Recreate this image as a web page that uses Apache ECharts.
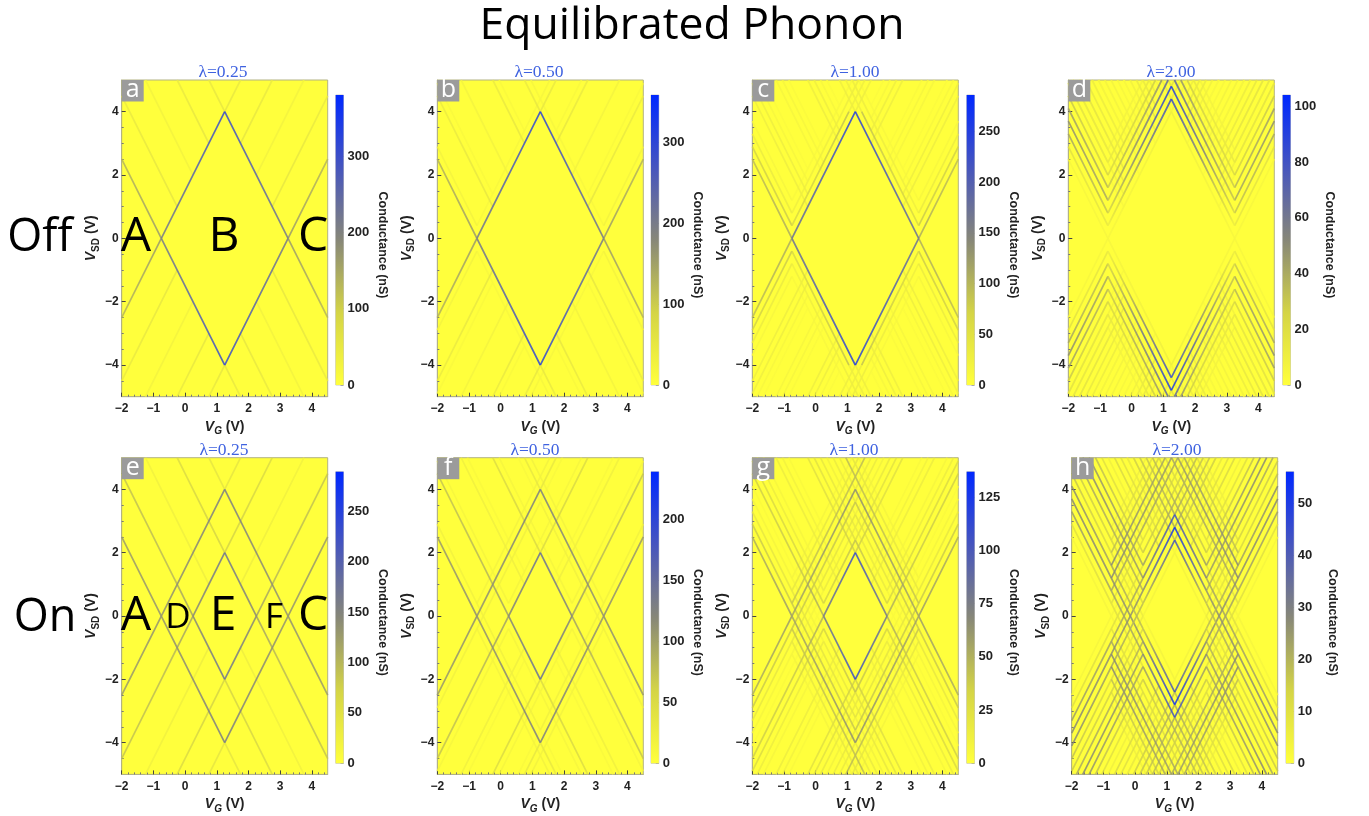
<!DOCTYPE html>
<html><head><meta charset="utf-8">
<style>html,body{margin:0;padding:0;background:#fff}#c{width:1369px;height:816px;filter:blur(0.45px)}</style>
<script src="https://cdn.jsdelivr.net/npm/echarts@6/dist/echarts.min.js"></script>
</head><body><div id="c"></div>
<script>
// Tick values
const xTicks = [-2,-1,0,1,2,3,4];
const yTicks = [-4,-2,0,2,4];
const xMinorTicks = [-1.8,-1.6,-1.4,-1.2,-0.8,-0.6,-0.4,-0.2,0.2,0.4,0.6,0.8,1.2,1.4,1.6,1.8,2.2,2.4,2.6,2.8,3.2,3.4,3.6,3.8,4.2,4.4];
const yMinorTicks = [-4.5,-3.5,-3,-2.5,-1.5,-1,-0.5,0.5,1,1.5,2.5,3,3.5,4.5];
const panelLetters = ['a','b','c','d','e','f','g','h'];
const lambdas = ['0.25','0.50','1.00','2.00','0.25','0.50','1.00','2.00'];
const colorbarMax = [380,359,286,104,289,239,137,56];
const colorbarTicks = [
  [0,100,200,300],[0,100,200,300],[0,50,100,150,200,250],[0,20,40,60,80,100],
  [0,50,100,150,200,250],[0,50,100,150,200],[0,25,50,75,100,125],[0,10,20,30,40,50]
];
// Conductance ridges: [VG1, VSD1, VG2, VSD2, G1, G2] in V, V, nS.
// The maps are symmetric about VSD=0 and VG=1.25, so one quarter of the ridges is listed.
const ridgesA = [[-2,-2.5,-.75,0,130,170],[-.75,0,1.25,4,210,310],[1.25,4,1.75,5,55,45],
  [-2,-4.5,-.25,-1,45,55],[1.75,3,2.75,5,55,45],[-1.25,-5,.25,-2,25,28]];
const ridgesB = [[-2,-2.5,-.75,0,125,160],[-.75,0,1.25,4,200,310],[1.25,4,1.75,5,50,40],
  [-2,-2.9,-.75,-.4,22,25],[-.75,.4,1.55,5,14,18],
  [-2,-4.5,-.25,-1,40,50],[1.75,3,2.75,5,50,40],[-2,-4.9,-.25,-1.4,12,12],[1.75,3.4,2.55,5,12,12],
  [-1.25,-5,.25,-2,22,25]];
const ridgesC = [[-2,-2.5,-.75,0,90,110],[-.75,0,1.25,4,170,250],[1.25,4,1.75,5,30,25],
  [-2,-2.9,-.75,-.4,70,80],[-.75,.4,1.05,4,60,90],[1.05,4,1.55,5,30,25],
  [-2,-3.3,-.75,-.8,30,35],[-.75,.8,1.35,5,25,30],[-2,-3.7,-.75,-1.2,12,15],[-.75,1.2,1.15,5,10,12],
  [-2,-4.5,-.25,-1,25,30],[-2,-4.9,-.25,-1.4,25,30],[-1.85,-5,-.25,-1.8,12,15],[-1.65,-5,-.25,-2.2,6,6],
  [1.75,3,2.75,5,30,25],[1.75,3.4,2.55,5,30,25],[1.75,3.8,2.35,5,15,12],[1.75,4.2,2.15,5,6,6],
  [-1.25,-5,.25,-2,15,15],[-1.05,-5,.25,-2.4,15,15],[-.85,-5,.25,-2.8,8,8]];
const ridgesD = [[-2,-2.5,-.75,0,5,5],[-2,-2.9,-.75,-.4,18,14],[-2,-3.3,-.75,-.8,42,30],[-2,-3.7,-.75,-1.2,50,40],
  [-2,-4.1,-.75,-1.6,45,35],[-2,-4.5,-.75,-2,30,24],[-2,-4.9,-.75,-2.4,16,14],[-1.85,-5,-.75,-2.8,8,8],[-1.65,-5,-.75,-3.2,4,4],
  [-.75,0,1.25,4,5,10],[1.25,4,1.75,5,6,5],[-.75,.4,1.25,4.4,8,85],[1.25,4.4,1.55,5,14,10],
  [-.75,.8,1.25,4.8,20,95],[1.25,4.8,1.35,5,20,15],[-.75,1.2,1.15,5,30,70],[-.75,1.6,.95,5,28,48],
  [-.75,2,.75,5,22,28],[-.75,2.4,.55,5,14,14],[-.75,2.8,.35,5,7,7],
  [-2,-4.5,-.25,-1,4,4],[-2,-4.9,-.25,-1.4,8,8],[-1.85,-5,-.25,-1.8,14,12],[-1.65,-5,-.25,-2.2,16,14],
  [-1.45,-5,-.25,-2.6,14,12],[-1.25,-5,-.25,-3,10,10],[-1.05,-5,-.25,-3.4,6,6],
  [1.75,3,2.75,5,4,4],[1.75,3.4,2.55,5,10,8],[1.75,3.8,2.35,5,16,12],[1.75,4.2,2.15,5,16,12],[1.75,4.6,1.95,5,12,10],
  [-1.25,-5,.25,-2,3,3],[-1.05,-5,.25,-2.4,5,5],[-.85,-5,.25,-2.8,7,7],[-.65,-5,.25,-3.2,7,7],[-.45,-5,.25,-3.6,5,5],[-.25,-5,.25,-4,3,3]];
const ridgesE = [[-2,-2.5,-.75,0,125,135],[-.75,0,1.25,4,130,160],[1.25,4,1.75,5,45,40],
  [-2,-4.5,-.25,-1,85,100],[-.25,-1,.25,0,110,120],[.25,0,1.25,2,140,175],[1.25,2,1.75,3,70,70],[1.75,3,2.75,5,75,55],
  [-1.25,-5,.75,-1,22,28]];
const ridgesF = [[-2,-2.5,-.75,0,105,115],[-.75,0,1.25,4,110,130],[1.25,4,1.75,5,35,30],
  [-2,-2.9,1.25,3.6,18,20],[1.25,3.6,1.95,5,10,8],[-.75,.4,1.55,5,15,18],
  [-2,-4.5,-.25,-1,70,85],[-.25,-1,.25,0,95,100],[.25,0,1.25,2,120,150],[1.25,2,1.75,3,50,50],[1.75,3,2.75,5,60,45],
  [-2,-4.9,.25,-.4,12,15],[.25,.4,2.55,5,15,12],
  [-1.25,-5,.75,-1,20,22],[-1.05,-5,.75,-1.4,8,8]];
const ridgesG = [[-2,-2.5,-.75,0,50,60],[-.75,0,1.25,4,55,65],[1.25,4,1.75,5,18,15],
  [-2,-2.9,1.25,3.6,38,40],[1.25,3.6,1.95,5,20,15],[-.75,.4,1.55,5,40,45],
  [-2,-3.3,1.25,3.2,18,22],[1.25,3.2,2.15,5,12,10],[-.75,.8,1.35,5,18,20],
  [-2,-3.7,.25,.8,8,8],[.25,.8,2.35,5,16,18],[-.75,1.2,1.15,5,8,8],
  [-2,-4.1,.25,.4,4,4],[.25,.4,1.25,2.4,32,42],[1.25,2.4,2.55,5,25,22],
  [-2,-4.5,-.25,-1,35,40],[-.25,-1,.25,0,50,50],[.25,0,1.25,2,75,110],[1.25,2,1.75,3,35,35],[1.75,3,2.75,5,28,22],
  [-2,-4.9,.25,-.4,28,32],[-1.85,-5,.25,-.8,14,16],[-1.65,-5,.25,-1.2,7,7],
  [-1.25,-5,.75,-1,14,15],[-1.05,-5,.75,-1.4,10,10],[-.85,-5,.75,-1.8,5,5]];
const ridgesH = [[-2,-2.5,.25,2,3,3],[.25,2,1.75,5,16,14],
  [-2,-2.9,.25,1.6,10,10],[.25,1.6,1.95,5,24,18],
  [-2,-3.3,.25,1.2,24,22],[.25,1.2,1.25,3.2,28,44],[1.25,3.2,2.15,5,22,16],
  [-2,-3.7,.25,.8,28,26],[.25,.8,1.25,2.8,26,54],[1.25,2.8,2.35,5,22,16],
  [-2,-4.1,.25,.4,28,18],[.25,.4,1.25,2.4,16,44],[1.25,2.4,2.55,5,18,14],
  [-2,-4.5,.25,0,18,6],[.25,0,1.25,2,3,4],[1.25,2,2.75,5,3,3],
  [-.75,.4,1.55,5,10,12],[-.75,.8,1.35,5,22,22],[-.75,1.2,1.15,5,28,24],
  [-.75,1.6,.95,5,28,22],[-.75,2,.75,5,18,14],[-.75,2.4,.55,5,10,10],[-.75,2.8,.35,5,5,5],
  [-2,-4.9,.25,-.4,16,12],[-1.85,-5,.25,-.8,22,20],[-1.65,-5,.25,-1.2,28,24],
  [-1.45,-5,.25,-1.6,26,22],[-1.25,-5,.25,-2,18,14],[-1.05,-5,.25,-2.4,10,10],[-.85,-5,.25,-2.8,5,5],
  [-.65,-5,.75,-2.2,12,12],[-.45,-5,.75,-2.6,10,10],[-.25,-5,.75,-3,7,7],[-.05,-5,.75,-3.4,4,4]];
const panelRidges = [ridgesA,ridgesB,ridgesC,ridgesD,ridgesE,ridgesF,ridgesG,ridgesH];

// Layout (pixels)
const plotLeft = [121.7,437.3,752.3,1068.3,121.7,437.3,752.3,1071.7];
const plotTop = [80,80,80,80,457.7,457.7,457.7,457.7];
const plotW = 206, plotH = 316.7;
const barLeft = [335.7,651,966.7,1282.7,335.7,651,966.7,1286];
const barTop = [95,95,95,95,471.7,471.7,471.7,471.7];
const barH = [290,290,290,290,291.6,291.6,291.6,291.6];
const lambdaX = [223,539,855,1171,224,535,854,1177];
const lambdaY = [58,58,58,58,436,436,436,436];
const bigLabels = [
  ['Off',40,238,45],['A',136,237,48],['B',224,237,48],['C',313,237,48],
  ['On',45,618,45],['A',136,616,48],['D',178,618,35],['E',223,616,48],['F',274,618,35],['C',313,616,48]
];

const SYM = 2.5;
const RAMP = [[0,[255,255,60]],[.25,[212,212,70]],[.5,[135,135,120]],[.75,[70,85,190]],[1,[0,40,255]]];
function ramp(t){
  t = Math.max(0,Math.min(1,t));
  for(let i=1;i<RAMP.length;i++){
    if(t<=RAMP[i][0]){
      const a=RAMP[i-1],b=RAMP[i],u=(t-a[0])/(b[0]-a[0]);
      return 'rgb('+a[1].map((v,k)=>Math.round(v+(b[1][k]-v)*u)).join(',')+')';
    }
  }
  return 'rgb(0,40,255)';
}
function stops(t1,t2){
  const s=[];
  for(let i=0;i<=4;i++){s.push({offset:i/4,color:ramp(t1+(t2-t1)*i/4)});}
  return s;
}
function lineItems(rows,max){
  const items=[];
  rows.slice().sort((p,q)=>Math.max(p[4],p[5])-Math.max(q[4],q[5])).forEach(r=>{
    const [x1,y1,x2,y2,g1,g2]=r, a=g1/max, b=g2/max;
    const up=new echarts.graphic.LinearGradient(0,1,1,0,stops(a,b));
    const upR=new echarts.graphic.LinearGradient(0,1,1,0,stops(b,a));
    const dn=new echarts.graphic.LinearGradient(0,0,1,1,stops(a,b));
    const dnR=new echarts.graphic.LinearGradient(0,0,1,1,stops(b,a));
    items.push({coords:[[x1,y1],[x2,y2]],lineStyle:{color:up}});
    items.push({coords:[[SYM-x2,-y2],[SYM-x1,-y1]],lineStyle:{color:upR}});
    items.push({coords:[[x1,-y1],[x2,-y2]],lineStyle:{color:dn}});
    items.push({coords:[[SYM-x2,y2],[SYM-x1,y1]],lineStyle:{color:dnR}});
  });
  return items;
}
const minusFmt = v => String(v).replace('-','\u2212');
const LABEL = {fontFamily:'Liberation Sans',fontWeight:'bold',fontSize:12,color:'#222'};
const nameRich = {
  i:{fontFamily:'Liberation Sans',fontStyle:'italic',fontWeight:'bold',fontSize:14,color:'#222'},
  s:{fontFamily:'Liberation Sans',fontStyle:'italic',fontWeight:'bold',fontSize:10,color:'#222',verticalAlign:'bottom',lineHeight:20},
  t:{fontFamily:'Liberation Sans',fontWeight:'bold',fontSize:10,color:'#222',verticalAlign:'bottom',lineHeight:20},
  r:{fontFamily:'Liberation Sans',fontWeight:'bold',fontSize:14,color:'#222'}
};

const grid=[],xAxis=[],yAxis=[],series=[],title=[],graphic=[];
title.push({text:'Equilibrated Phonon',left:687,top:-1,textAlign:'center',
  textStyle:{fontFamily:'Open Sans',fontWeight:'normal',fontSize:44.5,color:'#000'}});

panelLetters.forEach((letter,p)=>{
  const gi=grid.length;
  grid.push({left:plotLeft[p],top:plotTop[p],width:plotW,height:plotH,show:true,
    backgroundColor:'#ffff3c',borderColor:'#b3b383',borderWidth:1,containLabel:false});
  const ax=xAxis.length, ay=yAxis.length;
  xAxis.push({gridIndex:gi,type:'value',min:-2,max:4.5,position:'bottom',
    name:'{i|V}{s|G}{r| (V)}',nameLocation:'middle',nameGap:20,nameTextStyle:{rich:nameRich},
    axisLine:{show:true,onZero:false,lineStyle:{color:'#b3b383',width:1}},
    axisTick:{show:true,inside:true,length:4,customValues:xTicks,lineStyle:{color:'#444'}},
    axisLabel:Object.assign({show:true,customValues:xTicks,formatter:minusFmt,margin:6},LABEL),
    splitLine:{show:false}});
  yAxis.push({gridIndex:gi,type:'value',min:-5,max:5,position:'left',
    name:'{i|V}{t|SD}{r| (V)}',nameLocation:'middle',nameGap:13,nameRotate:90,nameTextStyle:{rich:nameRich},
    axisLine:{show:true,onZero:false,lineStyle:{color:'#b3b383',width:1}},
    axisTick:{show:true,inside:true,length:4,customValues:yTicks,lineStyle:{color:'#444'}},
    axisLabel:Object.assign({show:true,customValues:yTicks,formatter:minusFmt,margin:3},LABEL),
    splitLine:{show:false}});
  // minor ticks
  xAxis.push({gridIndex:gi,type:'value',min:-2,max:4.5,position:'bottom',
    axisLine:{show:false,onZero:false},axisLabel:{show:false},splitLine:{show:false},
    axisTick:{show:true,inside:true,length:2,customValues:xMinorTicks,lineStyle:{color:'#777'}}});
  yAxis.push({gridIndex:gi,type:'value',min:-5,max:5,position:'left',
    axisLine:{show:false,onZero:false},axisLabel:{show:false},splitLine:{show:false},
    axisTick:{show:true,inside:true,length:2,customValues:yMinorTicks,lineStyle:{color:'#777'}}});
  series.push({type:'lines',coordinateSystem:'cartesian2d',xAxisIndex:ax,yAxisIndex:ay,polyline:false,
    clip:true,silent:true,lineStyle:{width:1.7,opacity:.85,curveness:0},
    data:lineItems(panelRidges[p],colorbarMax[p]),z:3});
  // colour bar
  const bi=grid.length;
  grid.push({left:barLeft[p],top:barTop[p],width:7.8,height:barH[p],show:true,
    backgroundColor:'transparent',borderColor:'#c8c8c8',borderWidth:1});
  const bx=xAxis.length, by=yAxis.length;
  xAxis.push({gridIndex:bi,type:'category',data:['G'],show:false});
  yAxis.push({gridIndex:bi,type:'value',min:0,max:colorbarMax[p],position:'right',
    name:'Conductance (nS)',nameLocation:'middle',nameRotate:-90,nameGap:32,
    nameTextStyle:{fontFamily:'Liberation Sans',fontWeight:'bold',fontSize:12.5,color:'#222',padding:[0,0,0,10]},
    axisLine:{show:false},
    axisTick:{show:true,inside:true,length:3,customValues:colorbarTicks[p],lineStyle:{color:'#aaa'}},
    axisLabel:{show:true,customValues:colorbarTicks[p],margin:4,fontFamily:'Liberation Sans',fontWeight:'bold',fontSize:13,color:'#222'},
    splitLine:{show:false}});
  series.push({type:'bar',xAxisIndex:bx,yAxisIndex:by,barWidth:'100%',silent:true,
    data:[colorbarMax[p]],
    itemStyle:{color:new echarts.graphic.LinearGradient(0,1,0,0,
      [0,.125,.25,.375,.5,.625,.75,.875,1].map(o=>({offset:o,color:ramp(o)})))}});
  // lambda title
  title.push({text:'\u03bb='+lambdas[p],left:lambdaX[p]-5,top:lambdaY[p],textAlign:'center',
    textStyle:{fontFamily:'Liberation Serif',fontWeight:'normal',fontSize:17.5,color:'#3f62e0'}});
  // letter tag
  graphic.push({type:'rect',z:50,left:plotLeft[p],top:plotTop[p],shape:{width:22,height:21.5},style:{fill:'#9b9b9b'}});
  graphic.push({type:'text',z:51,x:plotLeft[p]+11,y:plotTop[p]+10,
    style:{text:letter,fill:'#fff',font:'25px "Open Sans"',textAlign:'center',textVerticalAlign:'middle'}});
});
bigLabels.forEach(b=>{
  graphic.push({type:'text',z:52,x:b[1],y:b[2],
    style:{text:b[0],fill:'#000',font:b[3]+'px "Open Sans"',textAlign:'center',textVerticalAlign:'middle'}});
});

const chart=echarts.init(document.getElementById('c'),null,{renderer:'canvas'});
chart.setOption({animation:false,backgroundColor:'#fff',title,grid,xAxis,yAxis,series,graphic});
</script></body></html>
